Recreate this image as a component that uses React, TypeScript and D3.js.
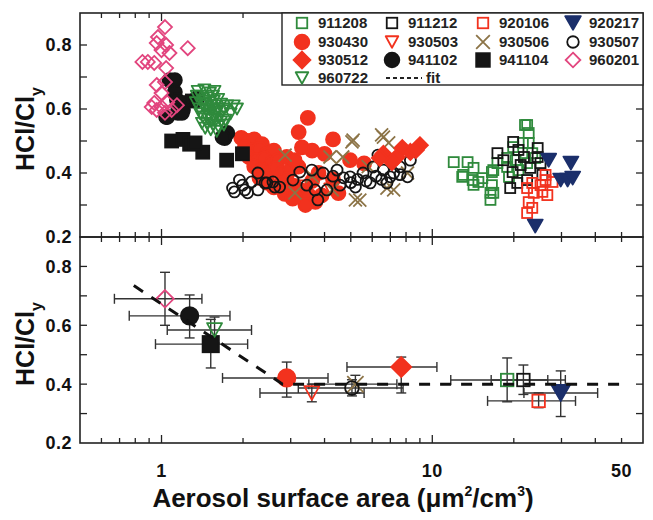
import React from 'react';
import * as d3 from 'd3';

// flight ids, in legend order
const flights = ['911208', '911212', '920106', '920217', '930430', '930503', '930506', '930507', '930512', '941102', '941104', '960201', '960722'];

// top panel: [surface area, HCl/Cly]
const f911208 = [[13.5, 0.434], [14.2, 0.416], [13.0, 0.394], [14.1, 0.378], [15.3, 0.384], [16.6, 0.362], [16.8, 0.338], [16.8, 0.409], [17.4, 0.431], [18.9, 0.419], [20.3, 0.44], [21.6, 0.494], [22.7, 0.494], [22.4, 0.55], [22.7, 0.525], [23.4, 0.462], [24.0, 0.447], [22.4, 0.431], [20.8, 0.409], [19.2, 0.388], [12.0, 0.434], [12.9, 0.388], [14.2, 0.363], [14.8, 0.372], [16.4, 0.338], [16.4, 0.316], [16.6, 0.403], [18.9, 0.447], [19.9, 0.481], [22.0, 0.55]];
const f911212 = [[17.4, 0.462], [18.3, 0.44], [19.9, 0.497], [20.8, 0.472], [21.8, 0.45], [19.8, 0.403], [20.6, 0.369], [19.4, 0.353], [23.0, 0.416], [24.5, 0.45], [25.1, 0.431], [25.5, 0.394], [22.4, 0.378], [24.5, 0.478], [21.2, 0.425]];
const f920106 = [[22.4, 0.353], [23.4, 0.369], [25.1, 0.362], [26.2, 0.378], [27.8, 0.372], [23.7, 0.338], [25.5, 0.341], [22.7, 0.309], [23.4, 0.291], [22.4, 0.275], [26.2, 0.394], [26.6, 0.331]];
const f920217 = [[26.9, 0.44], [32.5, 0.431], [29.8, 0.378], [31.6, 0.378], [33.0, 0.384], [24.0, 0.234]];
const f930430 = [[1.97, 0.51], [2.08, 0.5], [2.2, 0.505], [2.35, 0.49], [2.03, 0.48], [2.15, 0.47], [2.3, 0.475], [2.45, 0.46], [2.6, 0.47], [2.1, 0.45], [2.25, 0.44], [2.4, 0.445], [2.55, 0.43], [2.7, 0.44], [2.9, 0.45], [2.2, 0.42], [2.35, 0.41], [2.5, 0.4], [2.65, 0.415], [2.8, 0.4], [3.0, 0.41], [3.2, 0.42], [2.3, 0.385], [2.45, 0.37], [2.6, 0.355], [2.75, 0.365], [2.9, 0.38], [3.1, 0.36], [3.3, 0.345], [3.5, 0.33], [3.7, 0.31], [3.4, 0.3], [3.9, 0.33], [2.85, 0.335], [3.05, 0.32], [3.47, 0.572], [3.21, 0.528], [4.3, 0.505], [4.0, 0.46], [4.97, 0.44], [4.5, 0.337], [3.6, 0.47], [3.3, 0.48], [3.1, 0.44], [3.8, 0.4], [4.3, 0.38], [5.6, 0.43], [3.6, 0.375]];
const f930503 = [[2.6, 0.38], [3.3, 0.36], [4.2, 0.35]];
const f930506 = [[2.86, 0.456], [5.1, 0.503], [4.67, 0.45], [6.6, 0.512], [6.9, 0.494], [5.4, 0.315], [7.2, 0.347], [8.1, 0.4], [4.27, 0.347], [5.05, 0.497], [6.5, 0.519], [6.8, 0.353], [5.2, 0.316], [3.11, 0.338], [4.19, 0.45], [3.6, 0.39], [5.8, 0.42]];
const f930507 = [[1.99, 0.362], [2.15, 0.372], [2.27, 0.347], [2.45, 0.369], [2.58, 0.372], [2.73, 0.356], [3.06, 0.378], [1.86, 0.341], [2.08, 0.338], [1.83, 0.353], [1.94, 0.378], [2.03, 0.347], [2.27, 0.4], [2.41, 0.369], [2.62, 0.356], [3.24, 0.403], [3.44, 0.362], [3.69, 0.347], [3.78, 0.316], [3.59, 0.409], [3.95, 0.4], [4.45, 0.409], [4.97, 0.388], [5.55, 0.4], [6.05, 0.419], [6.6, 0.409], [6.99, 0.388], [7.6, 0.419], [8.1, 0.388], [8.3, 0.44], [5.2, 0.356], [5.9, 0.369], [4.56, 0.362], [4.08, 0.347], [6.3, 0.456], [6.8, 0.369], [5.3, 0.38], [6.2, 0.39], [7.2, 0.4], [4.7, 0.385], [5.7, 0.375], [6.5, 0.38], [5.0, 0.37], [7.6, 0.395], [4.3, 0.39]];
const f930512 = [[6.6, 0.46], [7.4, 0.45], [7.75, 0.478], [9.0, 0.487], [8.3, 0.466], [7.1, 0.434], [6.4, 0.447], [8.7, 0.472]];
const f941102 = [[1.07, 0.69], [1.12, 0.653], [1.14, 0.628], [1.2, 0.597], [1.05, 0.575], [1.15, 0.588], [1.12, 0.69], [1.19, 0.588], [1.35, 0.634], [1.71, 0.509], [1.75, 0.525], [1.04, 0.575], [1.35, 0.628], [1.68, 0.512]];
const f941104 = [[1.09, 0.5], [1.2, 0.505], [1.27, 0.49], [1.42, 0.465], [1.74, 0.44], [1.99, 0.46], [1.3, 0.625], [1.15, 0.62], [1.33, 0.494]];
const f960201 = [[1.03, 0.856], [0.97, 0.825], [0.96, 0.806], [1.04, 0.8], [1.0, 0.784], [1.07, 0.775], [1.25, 0.79], [0.89, 0.747], [0.94, 0.744], [1.04, 0.728], [0.96, 0.675], [1.03, 0.684], [1.0, 0.65], [0.94, 0.619], [1.0, 0.606], [1.05, 0.62], [0.96, 0.597], [1.09, 0.597], [1.03, 0.588], [1.14, 0.612], [0.92, 0.606], [0.85, 0.747]];
const f960722 = [[1.36, 0.655], [1.44, 0.66], [1.51, 0.65], [1.57, 0.655], [1.4, 0.64], [1.48, 0.635], [1.55, 0.64], [1.62, 0.63], [1.34, 0.62], [1.42, 0.615], [1.5, 0.62], [1.58, 0.61], [1.66, 0.615], [1.75, 0.61], [1.9, 0.6], [1.38, 0.6], [1.46, 0.595], [1.53, 0.6], [1.6, 0.59], [1.68, 0.595], [1.8, 0.585], [1.42, 0.575], [1.5, 0.58], [1.57, 0.57], [1.64, 0.575], [1.72, 0.565], [1.47, 0.555], [1.55, 0.55], [1.62, 0.545], [1.52, 0.535], [1.6, 0.53], [1.7, 0.55], [1.45, 0.54], [1.53, 0.565], [1.46, 0.61], [1.62, 0.6], [1.39, 0.585], [1.44, 0.625], [1.56, 0.625], [1.66, 0.56], [1.5, 0.6], [1.58, 0.585], [1.48, 0.57], [1.41, 0.555], [1.7, 0.6], [1.85, 0.61], [1.35, 0.64]];

// bottom panel means: [x, y, xLo, xHi, yLo, yHi]
const means = {
  '960201': [1.03, 0.69, 0.67, 1.41, 0.6, 0.78],
  '941102': [1.27, 0.632, 0.76, 1.79, 0.557, 0.703],
  '960722': [1.57, 0.584, 1.05, 2.15, 0.54, 0.628],
  '941104': [1.52, 0.536, 0.95, 2.08, 0.455, 0.62],
  '930430': [2.9, 0.421, 1.68, 4.12, 0.356, 0.475],
  '930503': [3.59, 0.37, 2.31, 5.6, 0.34, 0.4],
  '930507': [5.05, 0.387, 3.2, 7.8, 0.36, 0.415],
  '930506': [5.2, 0.4, 3.5, 7.4, 0.37, 0.43],
  '930512': [7.68, 0.458, 4.84, 10.4, 0.37, 0.492],
  '911208': [18.9, 0.414, 11.7, 26.7, 0.34, 0.489],
  '911212': [21.7, 0.414, 16.5, 31.0, 0.365, 0.465],
  '920106': [24.7, 0.343, 16.0, 33.8, 0.32, 0.37],
  '920217': [29.8, 0.37, 21.8, 40.8, 0.29, 0.445],
};

// fit line
const fit = [[0.79, 0.735], [2.8, 0.4], [50, 0.4]];

const topData = { '911208': f911208, '911212': f911212, '920106': f920106, '920217': f920217, '930430': f930430, '930503': f930503, '930506': f930506, '930507': f930507, '930512': f930512, '941102': f941102, '941104': f941104, '960201': f960201, '960722': f960722 };

const yLabels = [0.2, 0.4, 0.6, 0.8];
const xLabels = [1, 10, 50];

const GREEN = '#2f8a3c', RED = '#f2321e', PINK = '#e2457e', NAVY = '#1b2f6b', BROWN = '#8c7447', BLACK = '#151515';

const style = {
  '911208': { shape: 'square', color: GREEN, fill: false },
  '911212': { shape: 'square', color: BLACK, fill: false },
  '920106': { shape: 'square', color: RED, fill: false },
  '920217': { shape: 'tri', color: NAVY, fill: true },
  '930430': { shape: 'circle', color: RED, fill: true },
  '930503': { shape: 'tri', color: RED, fill: false },
  '930506': { shape: 'x', color: BROWN, fill: false },
  '930507': { shape: 'circle', color: BLACK, fill: false },
  '930512': { shape: 'diamond', color: RED, fill: true },
  '941102': { shape: 'circle', color: BLACK, fill: true },
  '941104': { shape: 'square', color: BLACK, fill: true },
  '960201': { shape: 'diamond', color: PINK, fill: false },
  '960722': { shape: 'tri', color: GREEN, fill: false },
};

const FONT = '"Liberation Sans", Arial, Helvetica, sans-serif';

const Marker = ({ id, cx, cy, k = 1 }) => {
  const s = style[id];
  const fill = s.fill ? s.color : 'none';
  const sw = 1.8;
  if (s.shape === 'circle') {
    const r = (s.fill ? 7 : 5.5) * k;
    return <circle cx={cx} cy={cy} r={r} fill={s.fill ? s.color : 'none'} stroke={s.color} strokeWidth={sw} />;
  }
  if (s.shape === 'square') {
    const h = (s.fill ? 6.5 : 5) * k;
    return <rect x={cx - h} y={cy - h} width={2 * h} height={2 * h} fill={fill} stroke={s.color} strokeWidth={sw} />;
  }
  if (s.shape === 'diamond') {
    const h = (s.fill ? 8 : 7) * k;
    return <path d={`M${cx},${cy - h}L${cx + h},${cy}L${cx},${cy + h}L${cx - h},${cy}Z`} fill={fill} stroke={s.color} strokeWidth={sw} />;
  }
  if (s.shape === 'tri') {
    const w = (s.fill ? 7.5 : 6) * k, h = (s.fill ? 6.5 : 5.5) * k;
    return <path d={`M${cx - w},${cy - h}L${cx + w},${cy - h}L${cx},${cy + h}Z`} fill={fill} stroke={s.color} strokeWidth={sw} strokeLinejoin="round" />;
  }
  const h = 6.5 * k;
  return <path d={`M${cx - h},${cy - h}L${cx + h},${cy + h}M${cx - h},${cy + h}L${cx + h},${cy - h}`} stroke={s.color} strokeWidth={sw} />;
};

const W = 653, H = 520;
const L = 80, R = 643, T = 13, MID = 237, B = 443;

const x = d3.scaleLog().domain([0.5, 60]).range([L, R]);
const yTop = d3.scaleLinear().domain([0.2, 0.9]).range([MID, T]);
const yBot = d3.scaleLinear().domain([0.2, 0.9]).range([B, MID]);

const drawOrder = ['930430', '930503', '930506', '930507', '930512', '941104', '941102', '960722', '960201', '911208', '911212', '920106', '920217'];
const bottomOrder = ['930506', '930507', '930503', '930430', '941104', '960722', '941102', '960201', '930512', '911208', '911212', '920106', '920217'];

const Axes = ({ y, top, bottom }) => {
  const xt = x.ticks().filter(v => v > 0.5 && v < 60);
  const yt = d3.range(0.3, 0.85, 0.1);
  const line = { stroke: '#222', strokeWidth: 1.3 };
  return (
    <g>
      <rect x={L} y={top} width={R - L} height={bottom - top} fill="none" stroke="#222" strokeWidth={1.6} />
      {xt.map(v => {
        const major = Math.abs(Math.log10(v) - Math.round(Math.log10(v))) < 1e-6;
        const len = major ? 8 : 5;
        return (
          <g key={v}>
            <line x1={x(v)} x2={x(v)} y1={bottom} y2={bottom - len} {...line} />
            <line x1={x(v)} x2={x(v)} y1={top} y2={top + len} {...line} />
          </g>
        );
      })}
      {yt.map(v => (
        <g key={v}>
          <line x1={L} x2={L + 7} y1={y(v)} y2={y(v)} {...line} />
          <line x1={R} x2={R - 7} y1={y(v)} y2={y(v)} {...line} />
        </g>
      ))}
      {yLabels.map(v => (
        <text key={v} x={L - 8} y={y(v)} dy="0.36em" textAnchor="end" fontFamily={FONT} fontWeight="bold" fontSize={18} letterSpacing={0.5} fill="#111">{v.toFixed(1)}</text>
      ))}
      <text transform={`translate(34,${(top + bottom) / 2 + 4}) rotate(-90)`} textAnchor="middle" fontFamily={FONT} fontWeight="bold" fontSize={25} fill="#111">
        HCl/Cl<tspan fontSize={16} dy={8}>y</tspan>
      </text>
    </g>
  );
};

export default function App() {
  const fitLine = d3.line().x(d => x(d[0])).y(d => yBot(d[1]));
  const legendX = [302, 392, 483, 573];
  const legendY = [23, 42, 60, 78];
  return (
    <svg width={W} height={H} style={{ position: 'absolute', left: 0, top: 0, background: '#fff' }}>
      <rect width={W} height={H} fill="#fff" />
      {/* top panel points */}
      <g>
        {drawOrder.map(id => topData[id].map((d, i) => (
          <Marker key={id + i} id={id} cx={x(d[0])} cy={yTop(d[1])} />
        )))}
      </g>
      {/* bottom panel means with error bars */}
      <g stroke="#333" strokeWidth={1.4}>
        {bottomOrder.map(id => {
          const [mx, my, x0, x1, y0, y1] = means[id];
          return (
            <g key={id}>
              <line x1={x(x0)} x2={x(x1)} y1={yBot(my)} y2={yBot(my)} />
              <line x1={x(x0)} x2={x(x0)} y1={yBot(my) - 5} y2={yBot(my) + 5} />
              <line x1={x(x1)} x2={x(x1)} y1={yBot(my) - 5} y2={yBot(my) + 5} />
              <line x1={x(mx)} x2={x(mx)} y1={yBot(y0)} y2={yBot(y1)} />
              <line x1={x(mx) - 5} x2={x(mx) + 5} y1={yBot(y0)} y2={yBot(y0)} />
              <line x1={x(mx) - 5} x2={x(mx) + 5} y1={yBot(y1)} y2={yBot(y1)} />
            </g>
          );
        })}
      </g>
      <g>
        {bottomOrder.map(id => (
          <Marker key={id} id={id} cx={x(means[id][0])} cy={yBot(means[id][1])} k={1.25} />
        ))}
      </g>
      <path d={fitLine(fit)} fill="none" stroke="#111" strokeWidth={3} strokeDasharray="11,10" />

      <Axes y={yTop} top={T} bottom={MID} />
      <Axes y={yBot} top={MID} bottom={B} />

      {/* legend */}
      <g>
        <rect x={282} y={T} width={R - 282} height={85 - T} fill="#fff" stroke="#222" strokeWidth={1.4} />
        {flights.map((id, i) => {
          const cx = legendX[i % 4], cy = legendY[Math.floor(i / 4)];
          return (
            <g key={id}>
              <Marker id={id} cx={cx} cy={cy} k={1.05} />
              <text x={cx + 16} y={cy} dy="0.36em" fontFamily={FONT} fontWeight="bold" fontSize={15} fill="#222">{id}</text>
            </g>
          );
        })}
        <line x1={legendX[1] - 6} x2={legendX[1] + 30} y1={legendY[3]} y2={legendY[3]} stroke="#222" strokeWidth={2} strokeDasharray="4,3" />
        <text x={legendX[1] + 34} y={legendY[3]} dy="0.36em" fontFamily={FONT} fontWeight="bold" fontSize={15} fill="#222">fit</text>
      </g>

      {/* x axis labels */}
      {xLabels.map(v => (
        <text key={v} x={x(v)} y={477} textAnchor="middle" fontFamily={FONT} fontWeight="bold" fontSize={18} letterSpacing={0.5} fill="#111">{v}</text>
      ))}
      <text x={343} y={507} textAnchor="middle" fontFamily={FONT} fontWeight="bold" fontSize={26} fill="#111">
        Aerosol surface area (μm<tspan fontSize={14} dy={-11}>2</tspan><tspan dy={11}>/cm</tspan><tspan fontSize={14} dy={-11}>3</tspan><tspan dy={11}>)</tspan>
      </text>
    </svg>
  );
}
